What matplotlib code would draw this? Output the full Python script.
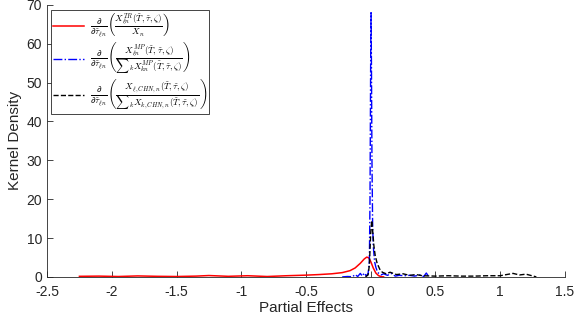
import matplotlib
matplotlib.use("Agg")
import matplotlib.pyplot as plt

plt.rcParams['font.family'] = ['Liberation Sans', 'DejaVu Sans']
plt.rcParams['mathtext.fontset'] = 'cm'

# red: trade share partial effect
red_x = [-2.25, -2.1, -1.95, -1.8, -1.65, -1.5, -1.35, -1.25, -1.1, -0.95, -0.8, -0.65,
         -0.5, -0.4, -0.3, -0.22, -0.16, -0.12, -0.08, -0.05, -0.03, -0.015, 0.0,
         0.02, 0.04, 0.06, 0.08, 0.1]
red_y = [0.15, 0.2, 0.1, 0.25, 0.15, 0.1, 0.2, 0.35, 0.15, 0.3, 0.1, 0.3,
         0.45, 0.6, 0.8, 1.1, 1.6, 2.3, 3.5, 4.6, 5.1, 4.9, 4.0,
         2.3, 1.0, 0.35, 0.05, 0.0]

# blue: MP share partial effect
blue_x = [-0.22, -0.18, -0.14, -0.12, -0.1, -0.08, -0.065, -0.05, -0.035, -0.02, -0.01,
          -0.005, 0.0, 0.003, 0.006, 0.01, 0.015, 0.02, 0.03, 0.04, 0.05, 0.06, 0.08,
          0.1, 0.13, 0.16, 0.19, 0.22, 0.26, 0.3, 0.34, 0.38, 0.41, 0.43, 0.45]
blue_y = [0, 0.1, 0.05, 0.6, 0.1, 0.9, 0.2, 1.0, 0.3, 0.8, 4,
          20, 55, 68, 55, 30, 14, 8, 4, 2.5, 1.5, 1.0, 0.5,
          0.8, 0.4, 0.9, 0.2, 0.4, 0.3, 0.4, 0.2, 0.5, 0.1, 1.0, 0.0]

# black: CHN share partial effect
black_x = [-0.04, -0.02, -0.01, 0.0, 0.008, 0.015, 0.025, 0.035, 0.05, 0.07, 0.09,
           0.12, 0.15, 0.2, 0.25, 0.3, 0.35, 0.4, 0.5, 0.6, 0.7, 0.8, 0.9, 1.0,
           1.05, 1.1, 1.15, 1.2, 1.28]
black_y = [0, 0.5, 3, 11, 14.5, 12, 8, 5.5, 3.5, 2.0, 1.2,
           0.8, 1.2, 0.6, 0.8, 0.4, 0.6, 0.3, 0.2, 0.3, 0.2, 0.2, 0.3, 0.3,
           0.6, 0.9, 0.5, 0.7, 0.0]

labels = [
    r'$\frac{\partial}{\partial\tilde{\tau}_{\ell n}}\left(\frac{X^{TR}_{\ell n}(\tilde{T},\tilde{\tau},\zeta)}{X_n}\right)$',
    r'$\frac{\partial}{\partial\tilde{\tau}_{\ell n}}\left(\frac{X^{MP}_{\ell n}(\tilde{T},\tilde{\tau},\zeta)}{{\sum}_k X^{MP}_{kn}(\tilde{T},\tilde{\tau},\zeta)}\right)$',
    r'$\frac{\partial}{\partial\tilde{\tau}_{\ell n}}\left(\frac{X_{\ell,CHN,n}(\tilde{T},\tilde{\tau},\zeta)}{{\sum}_k X_{k,CHN,n}(\tilde{T},\tilde{\tau},\zeta)}\right)$',
]

xticks = [-2.5, -2, -1.5, -1, -0.5, 0, 0.5, 1, 1.5]
yticks = [0, 10, 20, 30, 40, 50, 60, 70]

axcol = '#262626'

fig = plt.figure(figsize=(5.74, 3.25), dpi=100)
ax = fig.add_axes([0.082, 0.148, 0.902, 0.837])

ax.plot(red_x, red_y, color='red', lw=1.1, label=labels[0])
ax.plot(blue_x, blue_y, color='blue', lw=1.0, ls='-.', label=labels[1])
ax.plot(black_x, black_y, color='black', lw=1.0, ls='--', label=labels[2])

ax.set_xlim(-2.5, 1.5)
ax.set_ylim(0, 70)
ax.set_xticks(xticks)
ax.set_xticklabels([f'{t:g}' for t in xticks])
ax.set_yticks(yticks)
ax.tick_params(direction='in', length=4, width=0.6, colors=axcol, labelsize=10)
ax.tick_params(axis='x', pad=6)
for s in ['top', 'right']:
    ax.spines[s].set_visible(False)
for s in ['left', 'bottom']:
    ax.spines[s].set_color(axcol)
    ax.spines[s].set_linewidth(0.6)

ax.set_xlabel('Partial Effects', fontsize=11, color=axcol, labelpad=1)
ax.set_ylabel('Kernel Density', fontsize=11, color=axcol, labelpad=3)

leg = ax.legend(loc='upper left', bbox_to_anchor=(0.008, 0.98), fontsize=9.3,
                frameon=True, fancybox=False, edgecolor=axcol, framealpha=1,
                handlelength=2.4, handletextpad=0.5, labelspacing=0.05,
                borderpad=0.1, borderaxespad=0)
leg.get_frame().set_linewidth(0.6)

fig.savefig('out.png', dpi=100)
